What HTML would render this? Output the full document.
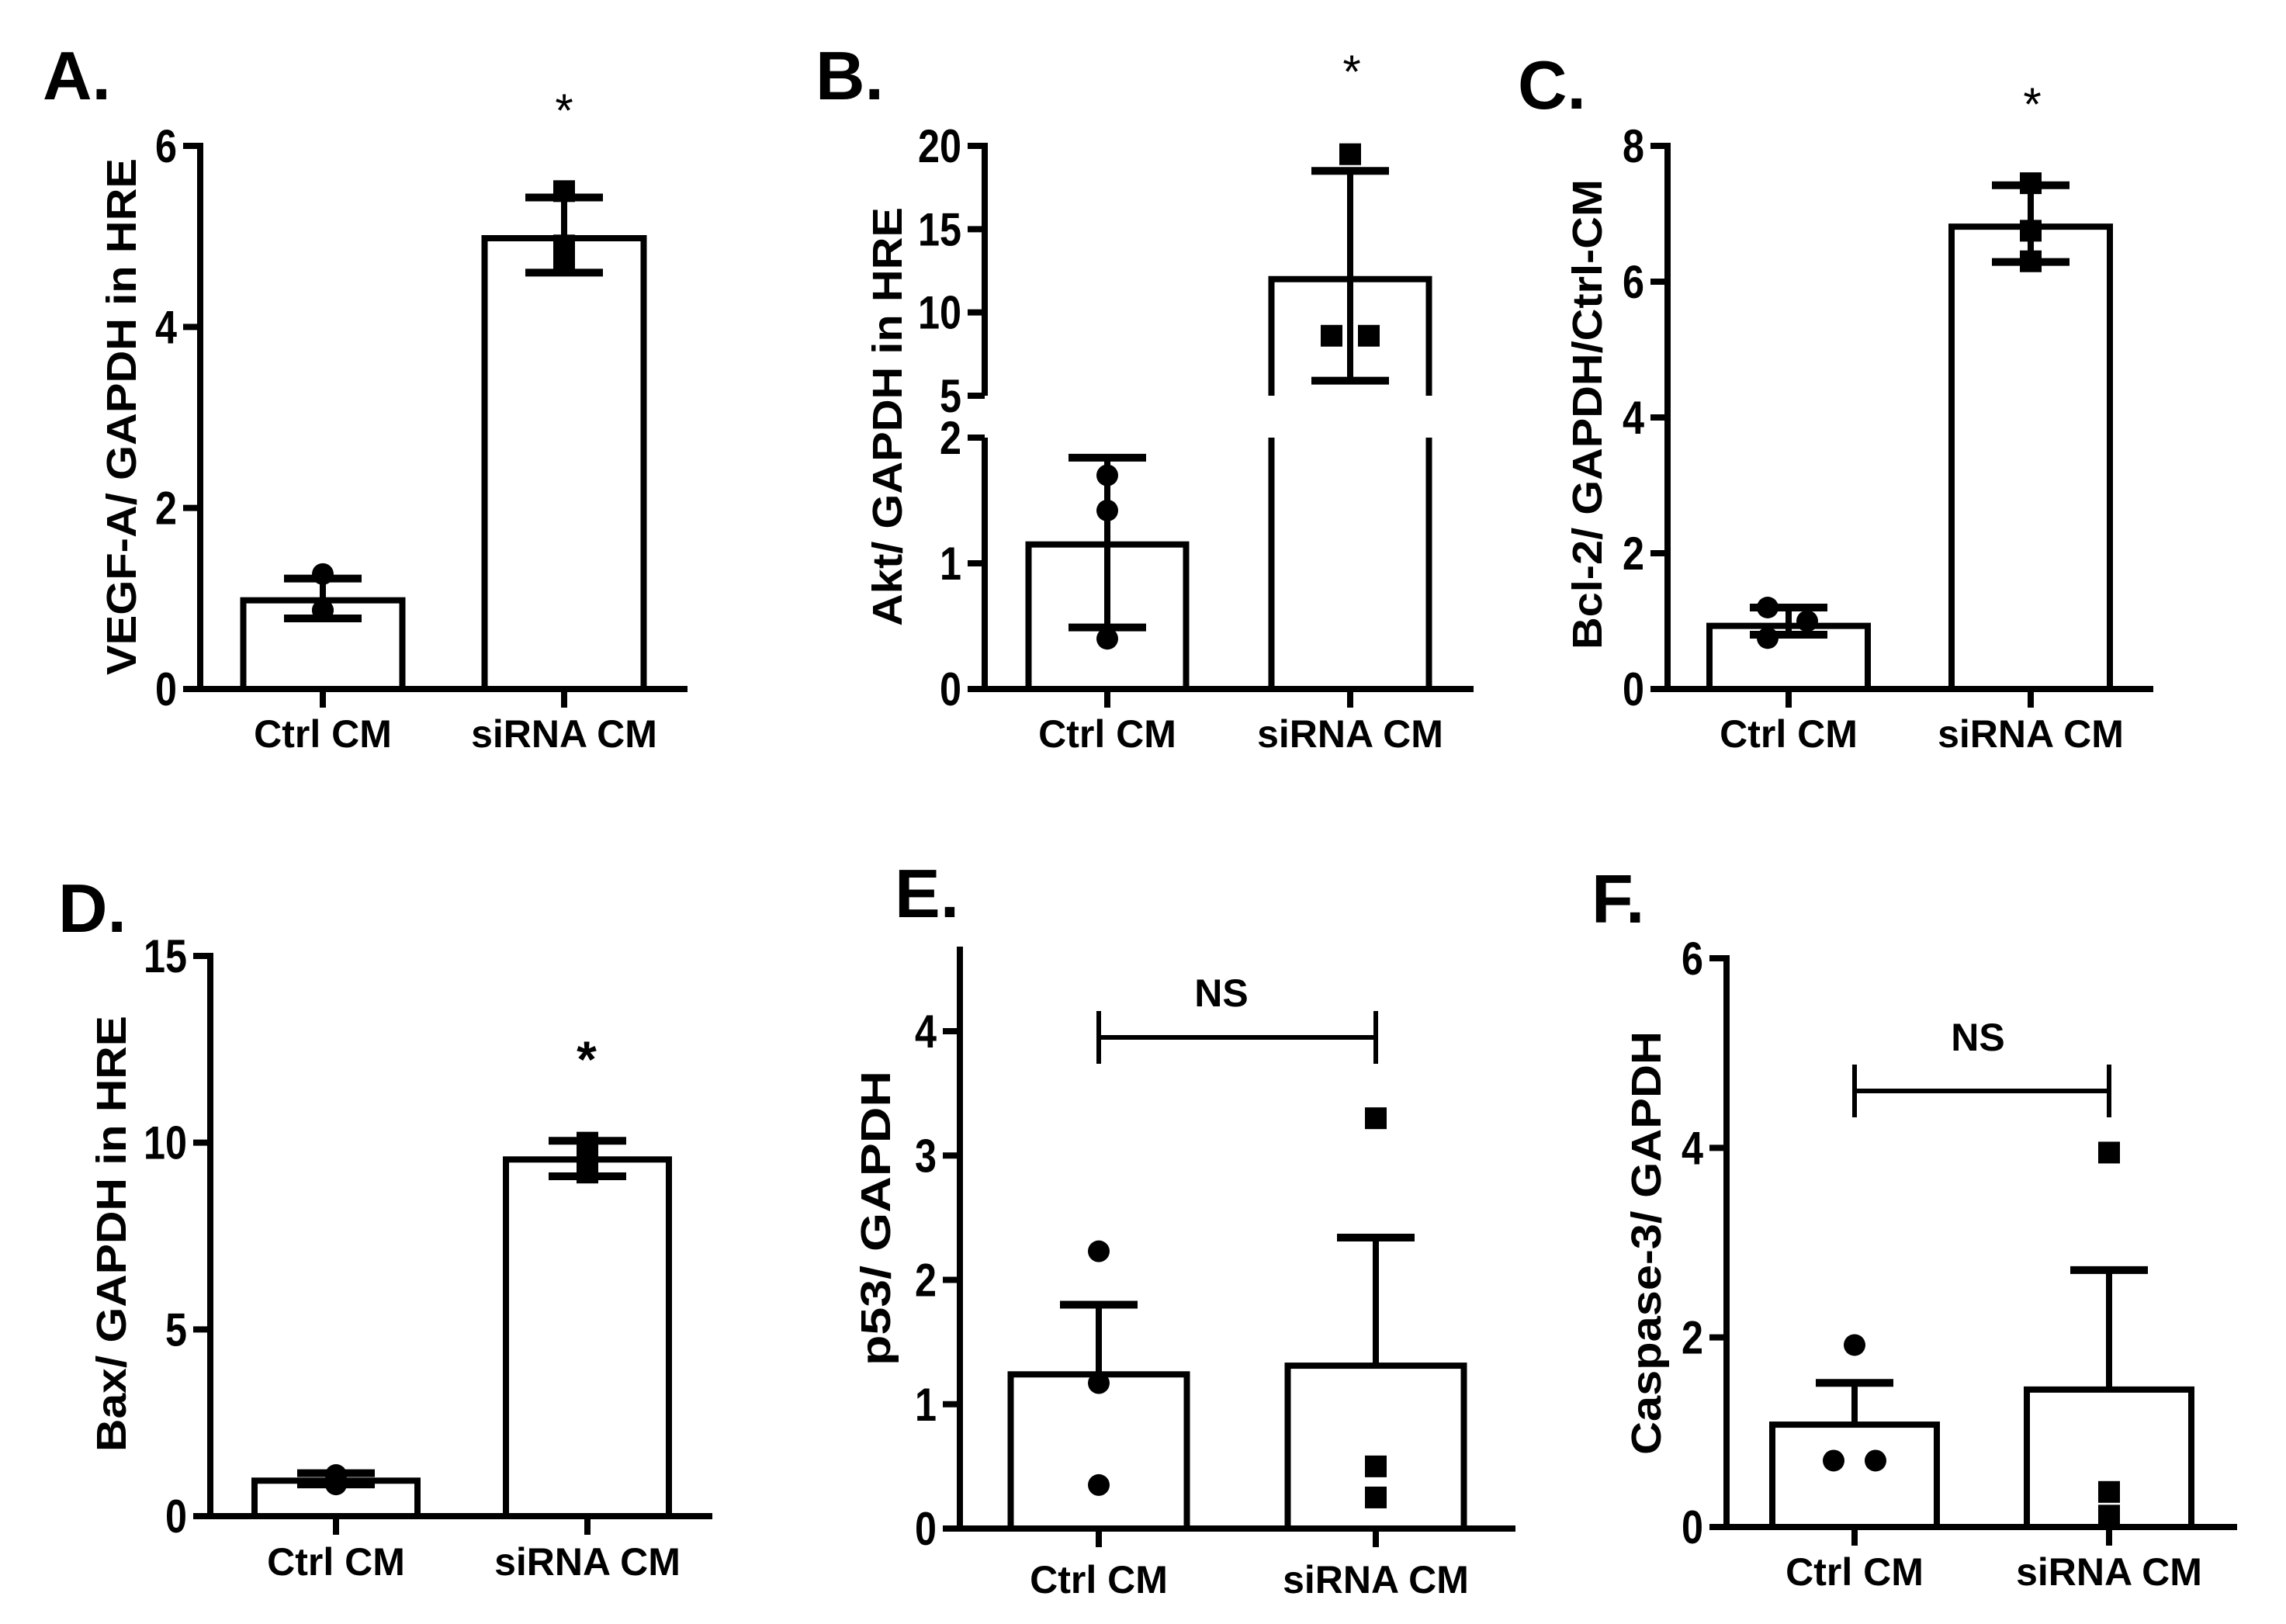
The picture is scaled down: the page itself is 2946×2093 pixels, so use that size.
<!DOCTYPE html>
<html><head><meta charset="utf-8">
<style>
html,body{margin:0;padding:0;background:#fff;}
svg{display:block;font-family:"Liberation Sans",Arial,sans-serif;}
</style></head>
<body>
<svg id="fig" width="2946" height="2093" viewBox="0 0 2946 2093" xmlns="http://www.w3.org/2000/svg"></svg>
<script>
// ---- data ----
const categories = ["Ctrl CM", "siRNA CM"];
const panelLetters = ["A.", "B.", "C.", "D.", "E.", "F."];
const yTitles = ["VEGF-A/ GAPDH in HRE", "Akt/ GAPDH in HRE", "Bcl-2/ GAPDH/Ctrl-CM", "Bax/ GAPDH in HRE", "p53/ GAPDH", "Caspase-3/ GAPDH"];
const meansA = [0.98, 4.98];
const errHiA = [1.22, 5.43];
const errLoA = [0.78, 4.6];
const ptsCtrlA = [1.27, 0.87, 0.87];
const ptsSiA = [5.5, 4.9, 4.7];
const ticksA = [0, 2, 4, 6];
const meansB = [1.15, 12.0];
const errHiB = [1.84, 18.5];
const errLoB = [0.49, 5.9];
const ptsCtrlB = [1.7, 1.42, 0.4];
const ptsSiB = [19.5, 8.6, 8.6];
const ticksB = [0, 1, 2, 5, 10, 15, 20];
const meansC = [0.93, 6.81];
const errHiC = [1.2, 7.42];
const errLoC = [0.8, 6.29];
const ptsCtrlC = [1.2, 1.0, 0.75];
const ptsSiC = [7.45, 6.75, 6.3];
const ticksC = [0, 2, 4, 6, 8];
const meansD = [0.95, 9.55];
const errHiD = [1.15, 10.05];
const errLoD = [0.85, 9.1];
const ptsCtrlD = [1.1, 0.95, 0.85];
const ptsSiD = [10.0, 9.6, 9.2];
const ticksD = [0, 5, 10, 15];
const meansE = [1.24, 1.31];
const errHiE = [1.80, 2.34];
const ptsCtrlE = [2.23, 1.17, 0.35];
const ptsSiE = [3.3, 0.5, 0.25];
const ticksE = [0, 1, 2, 3, 4];
const meansF = [1.08, 1.45];
const errHiF = [1.52, 2.71];
const ptsCtrlF = [1.92, 0.7, 0.7];
const ptsSiF = [3.95, 0.37, 0.12];
const ticksF = [0, 2, 4, 6];
const nsLevelE = 3.95;
const nsLevelF = 4.6;

const NS = "http://www.w3.org/2000/svg";
const svg = document.getElementById("fig");
function mk(tag, attrs, parent) {
  const e = document.createElementNS(NS, tag);
  for (const k in attrs) e.setAttribute(k, attrs[k]);
  (parent || svg).appendChild(e);
  return e;
}
function line(g, x1, y1, x2, y2, w) {
  return mk("line", {x1, y1, x2, y2, stroke: "#000", "stroke-width": w || 8}, g);
}
function txt(g, x, y, s, size, anchor, weight) {
  const t = mk("text", {x, y, "font-size": size, "text-anchor": anchor || "middle", "font-weight": weight || "bold", fill: "#000"}, g);
  t.textContent = s;
  return t;
}

const P = [
  {ax: 258, y0: 888, yTop: 188, xEnd: 886, cx: [416, 727], bw: 205, max: 6, ticks: ticksA, means: meansA, hi: errHiA, lo: errLoA, pc: ptsCtrlA, ps: ptsSiA,
   lx: 55, ly: 128, tx: 156, ty: 537, tl: 666, xly: 963, star: [727, 163, false]},
  {ax: 1269, y0: 888, yTop: 188, xEnd: 1899, cx: [1427, 1740], bw: 203, broken: true, ticks: ticksB, means: meansB, hi: errHiB, lo: errLoB, pc: ptsCtrlB, ps: ptsSiB,
   lx: 1051, ly: 128, tx: 1143, ty: 537, tl: 540, xly: 963, star: [1742, 113, false]},
  {ax: 2149, y0: 888, yTop: 188, xEnd: 2775, cx: [2305, 2617], bw: 204, max: 8, ticks: ticksC, means: meansC, hi: errHiC, lo: errLoC, pc: ptsCtrlC, ps: ptsSiC, pcx: [-27, 24, -27],
   lx: 1956, ly: 140, tx: 2045, ty: 534, tl: 606, xly: 963, star: [2619, 155, false]},
  {ax: 271, y0: 1954, yTop: 1232, xEnd: 918, cx: [433, 757], bw: 210, max: 15, ticks: ticksD, means: meansD, hi: errHiD, lo: errLoD, pc: ptsCtrlD, ps: ptsSiD,
   lx: 75, ly: 1201, tx: 143, ty: 1590, tl: 562, xly: 2030, star: [756, 1388, true]},
  {ax: 1237, y0: 1970, yTop: 1329, axTop: 1224, xEnd: 1953, cx: [1416, 1773], bw: 227, max: 4, ticks: ticksE, means: meansE, hi: errHiE, pc: ptsCtrlE, ps: ptsSiE,
   lx: 1153, ly: 1182, tx: 1128, ty: 1570, tl: 380, xly: 2053, ns: nsLevelE, nsText: [1574, 1297]},
  {ax: 2225, y0: 1968, yTop: 1235, xEnd: 2883, cx: [2390, 2718], bw: 212, max: 6, ticks: ticksF, means: meansF, hi: errHiF, pc: ptsCtrlF, ps: ptsSiF, pcx: [0, -27, 27],
   lx: 2051, ly: 1189, tx: 2121, ty: 1602, tl: 546, xly: 2043, ns: nsLevelF, nsText: [2549, 1354]}
];

function drawPanel(p, i) {
  const g = mk("g", {});
  
  
  let Y;
  if (p.broken) {
    Y = v => v <= 2 ? p.y0 - v * (p.y0 - 564) / 2 : 510 - (v - 5) * (510 - p.yTop) / 15;
  } else {
    Y = v => p.y0 - v * (p.y0 - p.yTop) / p.max;
  }
  const L = txt(g, p.lx, p.ly, panelLetters[i], 88, "start");
  
  
  if (p.broken) {
    line(g, p.ax, 188 - 4, p.ax, 510);
    line(g, p.ax, 564, p.ax, p.y0 + 4);
  } else {
    line(g, p.ax, (p.axTop || p.yTop) - 4, p.ax, p.y0 + 4);
  }
  const xa = line(g, p.ax - 4, p.y0, p.xEnd, p.y0);
  
  
  p.ticks.forEach(t => {
    const y = Y(t);
    line(g, p.ax - 22, y, p.ax, y);
    const s = String(t);
    const tl = txt(g, p.ax - 30, y + 21, s, 60, "end");
    tl.setAttribute("textLength", s.length * 28);
    tl.setAttribute("lengthAdjust", "spacingAndGlyphs");
    
    
  });
  const yt = txt(g, 0, 0, yTitles[i], 54, "middle");
  yt.setAttribute("transform", `translate(${p.tx + 19},${p.ty}) rotate(-90)`);
  yt.setAttribute("textLength", p.tl);
  yt.setAttribute("lengthAdjust", "spacingAndGlyphs");
  
  
  [0, 1].forEach(c => {
    const cx = p.cx[c];
    line(g, cx, p.y0, cx, p.y0 + 24);
    const xl = txt(g, cx, p.xly, categories[c], 50, "middle");
    
    
    const top = Y(p.means[c]);
    const bx1 = cx - p.bw / 2, bx2 = cx + p.bw / 2;
    const bar = mk("g", {}, g);
    
    
    if (p.broken && p.means[c] > 2) {
      mk("path", {d: `M${bx1},510 L${bx1},${top} L${bx2},${top} L${bx2},510`, fill: "none", stroke: "#000", "stroke-width": 8}, bar);
      line(bar, bx1, 564, bx1, p.y0);
      line(bar, bx2, 564, bx2, p.y0);
    } else {
      mk("rect", {x: bx1, y: top, width: p.bw, height: p.y0 - top, fill: "#fff", stroke: "#000", "stroke-width": 8}, bar);
    }
    const eb = mk("g", {}, g);
    
    
    const hy = Y(p.hi[c]);
    const ly = p.lo ? Y(p.lo[c]) : top;
    line(eb, cx, hy, cx, ly);
    line(eb, cx - 50, hy, cx + 50, hy, 10);
    if (p.lo) line(eb, cx - 50, ly, cx + 50, ly, 10);
    const pts = c === 0 ? p.pc : p.ps;
    pts.forEach((v, k) => {
      let px = cx;
      if (c === 0 && p.pcx) px += p.pcx[k];
      if (c === 1 && p.broken && v < 15) px += (k === 1 ? -24 : 24);
      const y = Y(v);
      let m;
      if (c === 0) m = mk("circle", {cx: px, cy: y, r: 14, fill: "#000"}, g);
      else m = mk("rect", {x: px - 14, y: y - 14, width: 28, height: 28, fill: "#000"}, g);
      
      
    });
  });
  if (p.star) {
    const s = txt(g, p.star[0], p.star[1], "*", p.star[2] ? 66 : 60, "middle", p.star[2] ? "bold" : "normal");
    
    
  }
  if (p.ns !== undefined) {
    const b = mk("g", {}, g);
    
    
    const y = Y(p.ns);
    line(b, p.cx[0] - 2, y, p.cx[1] + 2, y, 6);
    line(b, p.cx[0], y - 34, p.cx[0], y + 34, 6);
    line(b, p.cx[1], y - 34, p.cx[1], y + 34, 6);
    const t = txt(g, p.nsText[0], p.nsText[1], "NS", 50, "middle");
    
    
  }
}
P.forEach(drawPanel);
</script>
</body></html>
